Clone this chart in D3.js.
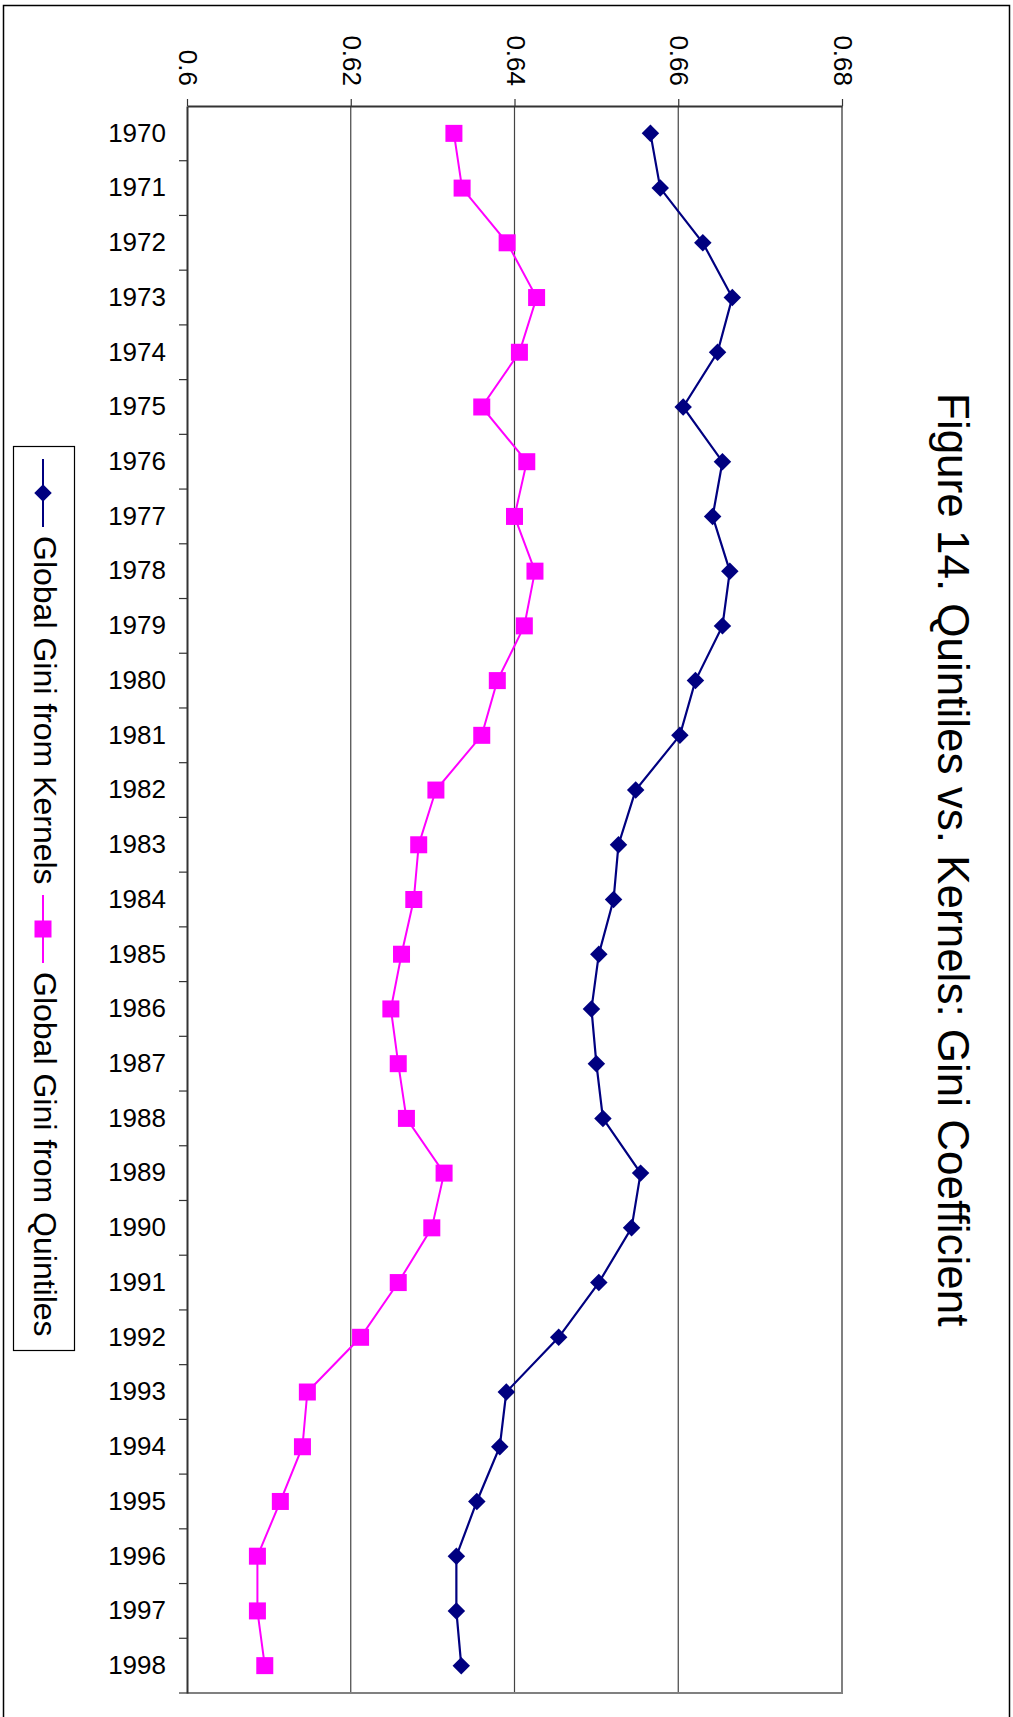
<!DOCTYPE html>
<html>
<head>
<meta charset="utf-8">
<script src="https://cdn.jsdelivr.net/npm/d3@7"></script>
<style>
  html, body { margin: 0; padding: 0; background: #fff; }
  svg { display: block; font-family: "Liberation Sans", Arial, sans-serif; }
</style>
</head>
<body>
<svg id="chart"></svg>
<script>
(function () {
  'use strict';

  const years = [1970, 1971, 1972, 1973, 1974, 1975, 1976, 1977, 1978, 1979,
    1980, 1981, 1982, 1983, 1984, 1985, 1986, 1987, 1988, 1989,
    1990, 1991, 1992, 1993, 1994, 1995, 1996, 1997, 1998];
  const kernels = [0.6566, 0.6578, 0.6630, 0.6666, 0.6648, 0.6606, 0.6654, 0.6642, 0.6663, 0.6654,
    0.6621, 0.6602, 0.6548, 0.6527, 0.6521, 0.6503, 0.6494, 0.6500, 0.6508, 0.6554,
    0.6543, 0.6503, 0.6454, 0.6390, 0.6382, 0.6354, 0.6329, 0.6329, 0.6335];
  const quintiles = [0.6326, 0.6336, 0.6391, 0.6427, 0.6406, 0.6360, 0.6415, 0.6400, 0.6425, 0.6412,
    0.6379, 0.6360, 0.6304, 0.6283, 0.6277, 0.6262, 0.6249, 0.6258, 0.6268, 0.6314,
    0.6299, 0.6258, 0.6212, 0.6147, 0.6141, 0.6114, 0.6086, 0.6086, 0.6095];
  const valueTicks = [0.6, 0.62, 0.64, 0.66, 0.68];
  const seriesNames = ["Global Gini from Kernels", "Global Gini from Quintiles"];
  const title = "Figure 14. Quintiles vs. Kernels: Gini Coefficient";

  const width = 1013, height = 1717;
  const plot = { left: 187, right: 842, top: 106, bottom: 1693 };

  const svg = d3.select("#chart")
    .attr("width", width)
    .attr("height", height);

  svg.append("rect")
    .attr("width", width).attr("height", height)
    .attr("fill", "#fff");

  // outer frame
  svg.append("rect")
    .attr("x", 3.5).attr("y", 5.5)
    .attr("width", 1006).attr("height", 1760)
    .attr("fill", "none").attr("stroke", "#000").attr("stroke-width", 1.5);

  const x = d3.scaleLinear()
    .domain([0.6, 0.68])
    .range([plot.left, plot.right]);

  const y = d3.scaleBand()
    .domain(years)
    .range([plot.top, plot.bottom])
    .padding(0);
  const yc = d => y(d) + y.bandwidth() / 2;

  // gridlines
  svg.append("g")
    .selectAll("line")
    .data(valueTicks.slice(1, -1))
    .join("line")
    .attr("x1", d => x(d)).attr("x2", d => x(d))
    .attr("y1", plot.top).attr("y2", plot.bottom)
    .attr("stroke", "#444").attr("stroke-width", 1.2);

  // plot border (right + bottom grey)
  svg.append("path")
    .attr("d", `M${plot.right},${plot.top}V${plot.bottom}H${plot.left}`)
    .attr("fill", "none").attr("stroke", "#808080").attr("stroke-width", 2);

  // value axis on top
  const xAxis = svg.append("g")
    .attr("transform", `translate(0,${plot.top})`)
    .call(d3.axisTop(x).tickValues(valueTicks).tickFormat(d3.format("")).tickSize(7).tickSizeOuter(0));
  xAxis.select(".domain").attr("stroke", "#333").attr("stroke-width", 2);
  xAxis.selectAll(".tick line").attr("stroke", "#333").attr("stroke-width", 1.2);
  xAxis.selectAll(".tick text")
    .attr("x", 0).attr("y", 0).attr("dy", "0.32em")
    .attr("transform", "translate(0,-20) rotate(90)")
    .attr("text-anchor", "end")
    .attr("fill", "#000")
    .style("font-size", "26px");

  // category axis on left
  const yAxis = svg.append("g")
    .attr("transform", `translate(${plot.left},0)`)
    .call(d3.axisLeft(y).tickSize(0).tickPadding(21));
  yAxis.select(".domain").attr("stroke", "#333").attr("stroke-width", 2);
  yAxis.selectAll(".tick text")
    .attr("fill", "#000")
    .style("font-size", "26px");

  // tick marks between categories
  svg.append("g")
    .selectAll("line")
    .data(years.slice(1).concat(["end"]))
    .join("line")
    .attr("x1", plot.left - 8).attr("x2", plot.left)
    .attr("y1", d => d === "end" ? plot.bottom : y(d))
    .attr("y2", d => d === "end" ? plot.bottom : y(d))
    .attr("stroke", "#333").attr("stroke-width", 1.2);

  const line = d3.line()
    .x(d => x(d.v))
    .y(d => yc(d.year));

  const kData = years.map((yr, i) => ({ year: yr, v: kernels[i] }));
  const qData = years.map((yr, i) => ({ year: yr, v: quintiles[i] }));

  const navy = "#000080", magenta = "#ff00ff";
  const diamond = d3.symbol().type(d3.symbolDiamond2).size(195);

  svg.append("path")
    .datum(qData)
    .attr("fill", "none").attr("stroke", magenta).attr("stroke-width", 2)
    .attr("d", line);
  svg.append("path")
    .datum(kData)
    .attr("fill", "none").attr("stroke", navy).attr("stroke-width", 2.2)
    .attr("d", line);

  svg.append("g")
    .selectAll("rect")
    .data(qData)
    .join("rect")
    .attr("x", d => x(d.v) - 8.5).attr("y", d => yc(d.year) - 8.5)
    .attr("width", 17).attr("height", 17)
    .attr("fill", magenta);

  svg.append("g")
    .selectAll("path")
    .data(kData)
    .join("path")
    .attr("transform", d => `translate(${x(d.v)},${yc(d.year)})`)
    .attr("d", diamond)
    .attr("fill", navy);

  // title
  svg.append("text")
    .attr("transform", "translate(938,393) rotate(90)")
    .attr("text-anchor", "start")
    .style("font-size", "44px")
    .attr("fill", "#000")
    .text(title);

  // legend
  const legend = svg.append("g");
  legend.append("rect")
    .attr("x", 13.5).attr("y", 446.5)
    .attr("width", 61).attr("height", 904)
    .attr("fill", "#fff").attr("stroke", "#000").attr("stroke-width", 1.2);

  const entries = [
    { name: seriesNames[0], color: navy, shape: "diamond", y0: 459 },
    { name: seriesNames[1], color: magenta, shape: "square", y0: 895 }
  ];
  const lx = 43;
  entries.forEach(e => {
    legend.append("line")
      .attr("x1", lx).attr("x2", lx)
      .attr("y1", e.y0).attr("y2", e.y0 + 68)
      .attr("stroke", e.color).attr("stroke-width", 2);
    if (e.shape === "diamond") {
      legend.append("path")
        .attr("transform", `translate(${lx},${e.y0 + 34})`)
        .attr("d", diamond)
        .attr("fill", e.color);
    } else {
      legend.append("rect")
        .attr("x", lx - 8.5).attr("y", e.y0 + 34 - 8.5)
        .attr("width", 17).attr("height", 17)
        .attr("fill", e.color);
    }
    legend.append("text")
      .attr("transform", `translate(34,${e.y0 + 77}) rotate(90)`)
      .style("font-size", "32px")
      .attr("fill", "#000")
      .text(e.name);
  });
})();
</script>
</body>
</html>
